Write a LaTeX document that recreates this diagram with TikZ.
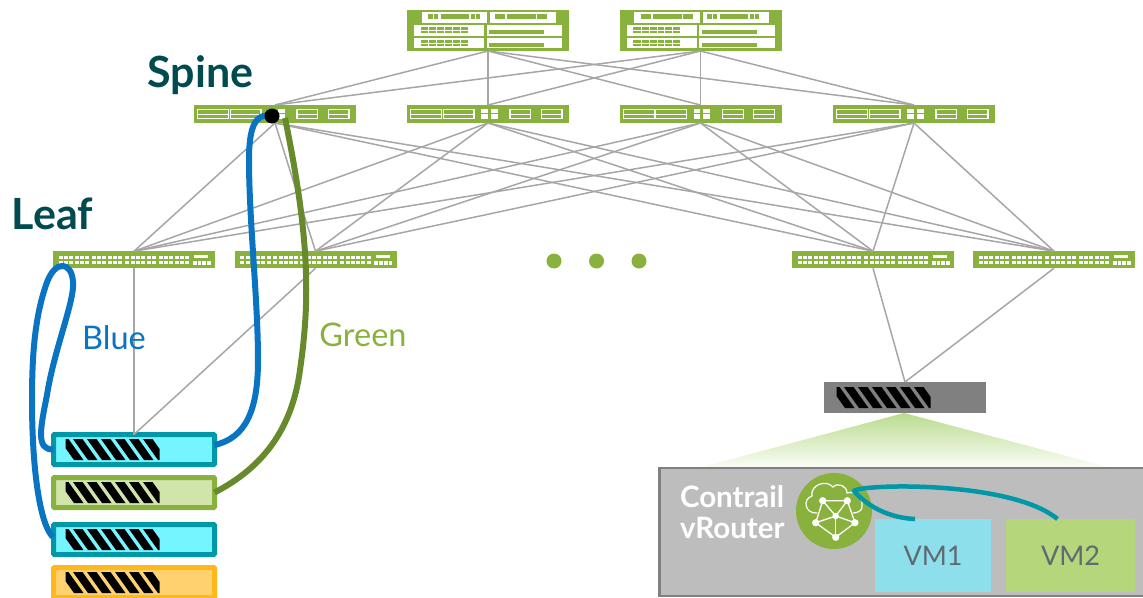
\documentclass[tikz,border=0pt]{standalone}
\usepackage{fontspec}
\setmainfont{Lato}
\definecolor{jgreen}{HTML}{89B13D}
\definecolor{jteal}{HTML}{0097A7}
\definecolor{jblue}{HTML}{0A74C2}
\definecolor{jolive}{HTML}{678B2C}
\definecolor{jdark}{HTML}{004B50}
\definecolor{jlink}{HTML}{A6A6A6}
\definecolor{srvcyan}{HTML}{75F5FF}
\definecolor{srvlime}{HTML}{D1E4AA}
\definecolor{srvamber}{HTML}{FFB81C}
\definecolor{srvpeach}{HTML}{FFD26F}
\definecolor{vmtext}{HTML}{5F6B70}
\definecolor{vmcyan}{HTML}{8CDFEB}
\definecolor{vmlime}{HTML}{B5D67B}
\definecolor{hostglow}{HTML}{B9DC8E}
\tikzset{
    devbox/.style={rectangle,fill=jgreen,draw=none,outer sep=0pt,inner sep=0pt,minimum width=162pt},
    corebox/.style={devbox,minimum height=41pt},
    spinebox/.style={devbox,minimum height=18pt},
    leafbox/.style={devbox,minimum height=17pt},
    srvbox/.style={rectangle,rounded corners=1pt,line width=5pt,outer sep=0pt,inner sep=0pt,minimum width=161pt,minimum height=30pt},
    srvteal/.style={srvbox,draw=jteal,fill=srvcyan},
    srvgreen/.style={srvbox,draw=jgreen,fill=srvlime},
    srvorange/.style={srvbox,draw=srvamber,fill=srvpeach},
    vmbox/.style={rectangle,inner sep=0pt,outer sep=0pt,text=vmtext,font=\fontsize{27}{27}\selectfont},
    link/.style={draw=jlink,line width=1.5pt},
    cable/.style={line width=6pt,line cap=butt},
    tier/.style={text=jdark,font=\fontsize{43}{43}\selectfont\bfseries},
    tag/.style={font=\fontsize{32.5}{32.5}\selectfont},
    gapdot/.style={circle,fill=jgreen,inner sep=0pt,minimum size=15pt},
    pics/hatchbar/.style={code={
        \begin{scope}
            \clip (-68.5,-10.5) rectangle (25.5,10.5);
            \foreach \k in {0,...,6}
                \fill[black] ({14*\k-75},-10.5)--++(9.5,0)--++(15,21)--++(-9.5,0)--cycle;
        \end{scope}
    }},
    pics/coreface/.style={code={
        \fill[white] (-66.3,-18.2) rectangle (-0.7,-7.8);
        \fill[white] (2,-18.2) rectangle (68,-7.8);
        \fill[white] (-74,-5.2) rectangle (-3.7,5.2);
        \fill[white] (-1.3,-5.2) rectangle (74,5.2);
        \fill[white] (-74,7.5) rectangle (-3.7,17.8);
        \fill[white] (-1.3,7.5) rectangle (74,17.8);
        \foreach \dx in {0,66.5}{
            \fill[jgreen] (-59.7+\dx,-16.5) rectangle (-54.9+\dx,-11.8);
            \fill[jgreen] (-54.2+\dx,-16.5) rectangle (-49.7+\dx,-11.8);
            \fill[jgreen] (-47.3+\dx,-16.5) rectangle (-19+\dx,-11.8);
            \fill[jgreen] (-17.3+\dx,-16.5) rectangle (-12.9+\dx,-11.8);
            \fill[jgreen] (-12.3+\dx,-16.5) rectangle (-8+\dx,-11.8);
        }
        \foreach \dy in {0,12.5}{
            \fill[jgreen] (-67.3,-3.2+\dy) rectangle (-20.3,2.8+\dy);
            \draw[white,line width=0.3pt] (-67.3,-0.2+\dy)--(-20.3,-0.2+\dy);
            \foreach \k in {1,...,5}
                \draw[white,line width=0.3pt] ({-67.3+7.83*\k},-3.2+\dy)--({-67.3+7.83*\k},2.8+\dy);
            \fill[jgreen] (1.3,-0.5+\dy) rectangle (56,3.8+\dy);
        }
    }},
    pics/spineface/.style={code={
        \foreach \xa/\xb in {-77.3/-46.3,-44.7/-14,22/42.7,53.3/74}{
            \draw[white,line width=1.2pt] (\xa,-4.5) rectangle (\xb,4.8);
            \draw[white,line width=1.2pt] (\xa,0.2)--(\xb,0.2);
        }
        \foreach \xa/\xb in {-7/-0.3,2.7/9.7}{
            \fill[white] (\xa,-5) rectangle (\xb,-0.7);
            \fill[white] (\xa,0.3) rectangle (\xb,4.7);
        }
    }},
    pics/leafface/.style={code={
        \foreach \gx in {-75.3,-42.3,-8.7,24.7}
            \foreach \k in {0,...,5}{
                \fill[white] ({\gx+5.3*\k},-4) rectangle ({\gx+5.3*\k+4},-0.7);
                \fill[white] ({\gx+5.3*\k},1.2) rectangle ({\gx+5.3*\k+4},4.5);
            }
        \fill[white] (60.3,-4.4) rectangle (74.3,-2);
        \foreach \k in {0,...,3}
            \fill[white] ({58.7+4.8*\k},1.6) rectangle ({58.7+4.8*\k+3.8},5);
    }},
    pics/routerface/.style={code={
        % cloud
        \draw[white,line width=1.2pt,line cap=round] (-17,2)..controls (-29,3) and (-32,-12)..(-22,-15)
            ..controls (-24,-26) and (-8,-32)..(-1,-24)
            ..controls (4,-29) and (13,-25)..(13,-18)
            ..controls (22,-21) and (29,-12)..(28,-5)
            ..controls (29,-1) and (24,2)..(19,2);
        % mesh
        \draw[white,line width=1.3pt] (-11.3,-10.3)--(13.3,-10.3)--(21,11.7)--(1.7,26.3)--(-18.3,11.7)--cycle;
        \foreach \px/\py in {-11.3/-10.3,13.3/-10.3,21/11.7,1.7/26.3,-18.3/11.7}{
            \draw[white,line width=1.3pt] (1.7,5)--(\px,\py);
            \fill[white] (\px,\py) circle (3.6);
        }
        \fill[white] (1.7,5) circle (3.2);
    }},
}
\begin{document}
\begin{tikzpicture}[x=1pt,y=-1pt]
    \useasboundingbox (0,0) rectangle (1143,597);
    \clip (0,0) rectangle (1143,597);

    % switches
    \node[corebox] (core1) at (488,30.5) {};
    \node[corebox] (core2) at (700.5,30.5) {};
    \node[spinebox] (spine1) at (275,114) {};
    \node[spinebox] (spine2) at (488,114) {};
    \node[spinebox] (spine3) at (700.5,114) {};
    \node[spinebox] (spine4) at (914,114) {};
    \node[leafbox] (leaf1) at (134,259.7) {};
    \node[leafbox] (leaf2) at (315.5,259.7) {};
    \node[leafbox] (leaf3) at (873,259.7) {};
    \node[leafbox] (leaf4) at (1054,259.7) {};
    \foreach \n in {core1,core2} \pic at (\n) {coreface};
    \foreach \n in {spine1,spine2,spine3,spine4} \pic at (\n) {spineface};
    \foreach \n in {leaf1,leaf2,leaf3,leaf4} \pic at (\n) {leafface};

    % servers
    \node[srvteal] (srv1) at (134,449.5) {};
    \node[srvgreen] (srv2) at (134,492.5) {};
    \node[srvteal] (srv3) at (134,539.5) {};
    \node[srvorange] (srv4) at (134,582.5) {};
    \node[rectangle,fill=black!50,inner sep=0pt,outer sep=0pt,minimum width=162pt,minimum height=31pt] (gw) at (905,397.5) {};
    \foreach \n in {srv1,srv2,srv3,srv4,gw} \pic at (\n) {hatchbar};

    % vRouter host
    \shade[top color=hostglow,bottom color=hostglow!8!white] (904,413)--(702,467)--(1108,467)--cycle;
    \fill[black!26] (659.5,468) rectangle (1150,596);
    \draw[black!50,line width=2.5pt] (1150,468)--(659.5,468)--(659.5,596)--(1150,596);
    \node[vmbox,fill=vmcyan,minimum width=116pt,minimum height=73pt] (vm1) at (933,555.5) {VM1};
    \node[vmbox,fill=vmlime,minimum width=129pt,minimum height=73pt] (vm2) at (1070.5,555.5) {VM2};
    \node[circle,fill=jgreen,inner sep=0pt,minimum size=76pt] (vrouter) at (834,511) {};
    \pic at (vrouter) {routerface};
    \node[text=white,align=left,anchor=west,font=\fontsize{29.5}{31}\selectfont\bfseries] (vlabel) at (676.5,512) {Contrail\\vRouter};
    \coordinate (tap) at (854,491);

    % links
    \foreach \c in {core1,core2}
        \foreach \s in {spine1,spine2,spine3,spine4}
            \draw[link] (\c.south)--(\s.north);
    \foreach \s in {spine1,spine2,spine3,spine4}
        \foreach \l in {leaf1,leaf2,leaf3,leaf4}
            \draw[link] (\s.south)--(\l.north);
    \draw[link] (leaf1.south)--(srv1.north);
    \draw[link] (leaf2.south)--(srv1.north);
    \draw[link] (leaf3.south)--(gw.north);
    \draw[link] (leaf4.south)--(gw.north);

    % labels
    \node[tier] (spinelabel) at (200.5,75) {Spine};
    \node[tier] (leaflabel) at (52.5,214) {Leaf};
    \node[tag,text=jblue] (bluelabel) at (114,338) {Blue};
    \node[tag,text=jgreen] (greenlabel) at (363,335) {Green};
    \node[gapdot] (gap1) at (554,261) {};
    \node[gapdot] (gap2) at (596.5,261) {};
    \node[gapdot] (gap3) at (639,261) {};

    % tunnels
    \coordinate (torpos) at (272,116);
    \draw[cable,jblue] ([yshift=4.5pt]srv1.east)..controls (246,438) and (258,410)..(258,360)
        ..controls (258,300) and (249,220)..(249,160)
        ..controls (249,130) and (254,112)..(torpos);
    \draw[cable,jolive] (srv2.east)..controls (262,468) and (292,430)..(300,370)
        ..controls (310,300) and (310,240)..(285,118);
    \draw[cable,jblue] (srv1.west)..controls (36,450) and (40,430)..(47,395)
        ..controls (54,350) and (75,300)..(73,282)
        ..controls (72,262) and (55,258)..(46,285)
        ..controls (34,320) and (32,360)..(32,400)
        ..controls (32,470) and (40,525)..(53,537);
    \node[circle,fill=black,inner sep=0pt,minimum size=15pt] (tor) at (torpos) {};
    \draw[line width=4.5pt,jteal,line join=round] ([xshift=-18pt]vm1.north)..controls (890,518) and (868,507)..(tap)
        ..controls (860,484) and (1010,480)..([xshift=-13pt]vm2.north);
\end{tikzpicture}
\end{document}
